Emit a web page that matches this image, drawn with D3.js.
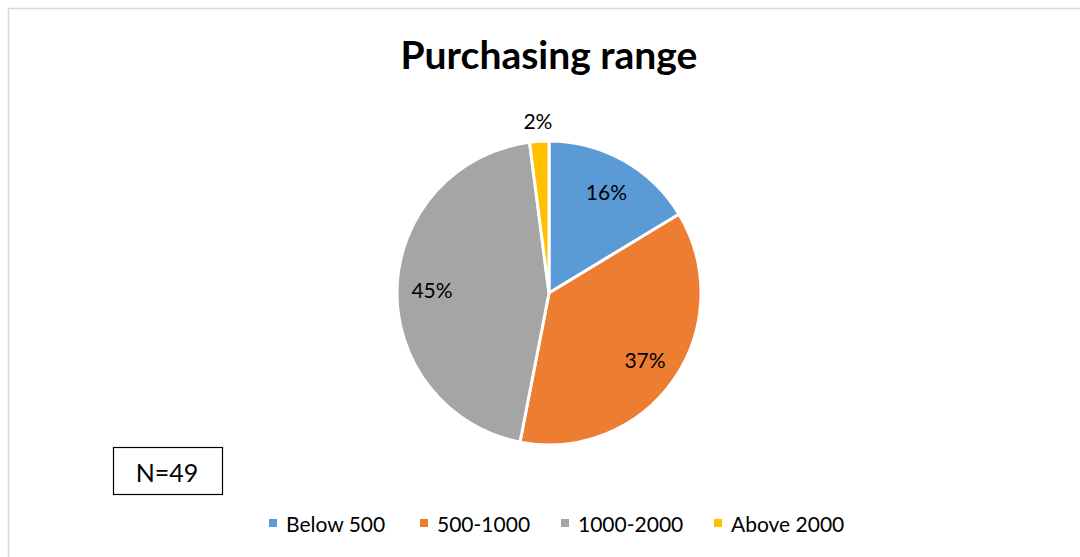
<!DOCTYPE html>
<html>
<head>
<meta charset="utf-8">
<script src="https://cdn.jsdelivr.net/npm/d3@7"></script>
<style>
  html, body { margin: 0; padding: 0; background: #fff; }
  svg { display: block; }
</style>
</head>
<body>
<svg id="chart" width="1080" height="557"></svg>
<script>
// Purchasing range of respondents (counts, N = 49)
const categories = ["Below 500", "500-1000", "1000-2000", "Above 2000"];
const counts = [8, 18, 22, 1];
const colors = ["#5B9BD5", "#ED7D31", "#A5A5A5", "#FFC000"];
const title = "Purchasing range";
const sampleLabel = "N=49";

const total = d3.sum(counts);
const W = 1080, H = 557;
const font = "Lato, 'Open Sans', sans-serif";

const svg = d3.select("#chart");

// chart frame
svg.append("rect")
  .attr("x", 8.5).attr("y", 8.5)
  .attr("width", W + 20).attr("height", H + 20)
  .attr("fill", "#fff")
  .attr("stroke", "#d9d9d9").attr("stroke-width", 1.5);

// title
svg.append("text")
  .attr("x", 549).attr("y", 69)
  .attr("text-anchor", "middle")
  .attr("font-family", font).attr("font-weight", "bold")
  .attr("font-size", 39).attr("fill", "#000")
  .text(title);

// pie
const cx = 549, cy = 293, R = 152;
const pie = d3.pie().sort(null).value(d => d.value);
const arcs = pie(categories.map((c, i) => ({ name: c, value: counts[i], color: colors[i] })));
const arc = d3.arc().innerRadius(0).outerRadius(R);
const labelArc = d3.arc().innerRadius(R * 0.77).outerRadius(R * 0.77);
const outerLabelArc = d3.arc().innerRadius(R + 21).outerRadius(R + 21);

const g = svg.append("g").attr("transform", `translate(${cx},${cy})`);
g.selectAll("path.slice")
  .data(arcs)
  .join("path")
  .attr("class", "slice")
  .attr("d", arc)
  .attr("fill", d => d.data.color)
  .attr("stroke", "#fff")
  .attr("stroke-width", 3)
  .attr("stroke-linejoin", "round");

const pct = d => Math.round(d.data.value / total * 100) + "%";
g.selectAll("text.lbl")
  .data(arcs)
  .join("text")
  .attr("class", "lbl")
  .attr("transform", d => {
    const small = (d.endAngle - d.startAngle) < 0.2;
    const p = (small ? outerLabelArc : labelArc).centroid(d);
    return `translate(${p[0]},${p[1]})`;
  })
  .attr("text-anchor", "middle")
  .attr("dominant-baseline", "central")
  .attr("font-family", font).attr("font-size", 21)
  .attr("fill", "#000")
  .text(pct);

// sample size box
svg.append("rect")
  .attr("x", 113.5).attr("y", 447.5)
  .attr("width", 109).attr("height", 47)
  .attr("fill", "#fff").attr("stroke", "#000").attr("stroke-width", 1.2);
svg.append("text")
  .attr("x", 167).attr("y", 472)
  .attr("text-anchor", "middle").attr("dominant-baseline", "central")
  .attr("font-family", font).attr("font-size", 25).attr("fill", "#000")
  .text(sampleLabel);

// legend
const legendX = [269, 420, 561, 714];
const legend = svg.append("g");
categories.forEach((c, i) => {
  legend.append("rect")
    .attr("x", legendX[i]).attr("y", 519)
    .attr("width", 8).attr("height", 8)
    .attr("fill", colors[i]);
  legend.append("text")
    .attr("x", legendX[i] + 17).attr("y", 523)
    .attr("dominant-baseline", "central")
    .attr("font-family", font).attr("font-size", 21).attr("fill", "#000")
    .text(c);
});
</script>
</body>
</html>
